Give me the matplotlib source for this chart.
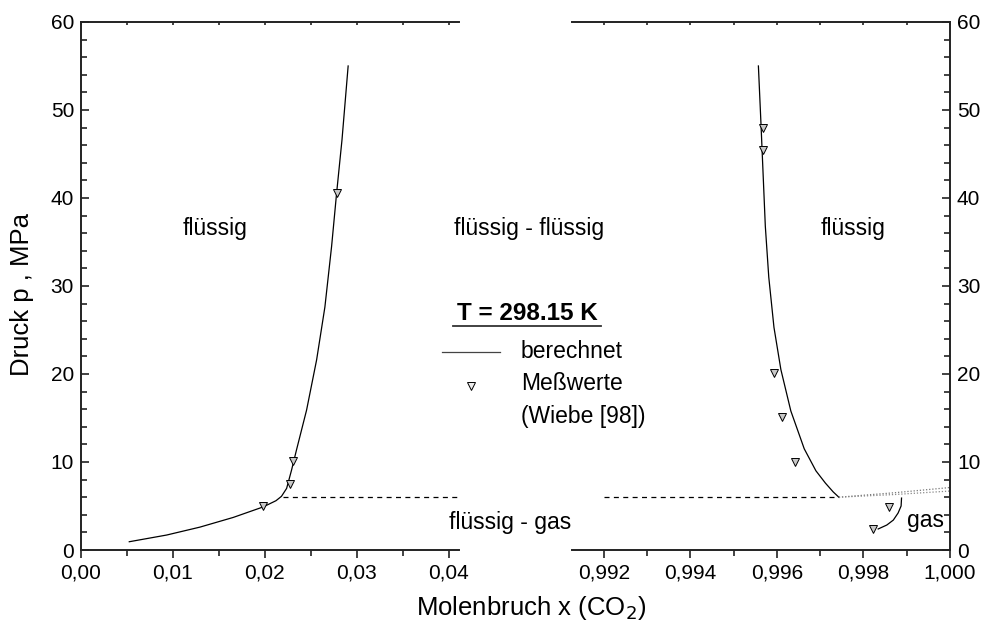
import matplotlib.pyplot as plt
from matplotlib.lines import Line2D
from matplotlib.ticker import MultipleLocator, FuncFormatter

plt.rcParams['font.family'] = ['Liberation Sans', 'DejaVu Sans']

# water-rich side (left panel)
x_calc_w = [0.00525, 0.00931, 0.01293, 0.01655, 0.01982, 0.02120, 0.02180, 0.02236, 0.02290,
            0.02344, 0.02453, 0.02562, 0.02652, 0.02725, 0.02779, 0.02838, 0.02905]
p_calc_w = [0.94, 1.7, 2.6, 3.7, 4.9, 5.6, 6.1, 7.0, 9.1,
            11.4, 15.9, 21.6, 27.6, 34.5, 40.5, 46.6, 55.0]
x_meas_w = [0.0198, 0.0227, 0.0231, 0.0278]
p_meas_w = [5.0, 7.5, 10.1, 40.6]

# CO2-rich side (right panel)
x_calc_c = [0.99557, 0.99563, 0.99568, 0.99573, 0.99581, 0.99593, 0.99609,
            0.99632, 0.99663, 0.99690, 0.99712, 0.99730, 0.99743]
p_calc_c = [55.0, 48.4, 42.6, 36.8, 31.0, 25.3, 20.5,
            15.8, 11.5, 9.0, 7.6, 6.6, 6.0]
x_gas = [0.99834, 0.99854, 0.99869, 0.99880, 0.99887, 0.99888]
p_gas = [2.39, 2.84, 3.4, 4.2, 5.0, 5.9]
x_meas_c = [0.99568, 0.99568, 0.99593, 0.99612, 0.99642, 0.99859, 0.99822]
p_meas_c = [48.0, 45.5, 20.1, 15.1, 10.0, 4.9, 2.4]

# three-phase pressure and metastable branches
p_3ph = 6.0
x_3ph_w = [0.0220, 0.0411]
x_3ph_c = [0.992, 0.99743]
x_dot = [0.99743, 0.9987, 1.000]
p_dot_up = [6.0, 6.5, 7.1]
p_dot_lo = [6.0, 6.3, 6.7]

xticks_w = [0.00, 0.01, 0.02, 0.03, 0.04]
xticks_c = [0.992, 0.994, 0.996, 0.998, 1.000]

fig = plt.figure(figsize=(9.83, 6.26), dpi=100)
ax1 = fig.add_axes([0.0824, 0.1214, 0.3845, 0.8435])
ax2 = fig.add_axes([0.5819, 0.1214, 0.3845, 0.8435])

mk = dict(ls='none', marker='v', ms=5.5, mfc='#c8c8c8', mec='black', mew=0.7)
dash = (0, (4, 3.5))

ax1.plot(x_calc_w, p_calc_w, color='black', lw=0.9)
ax1.plot(x_meas_w, p_meas_w, **mk)
ax1.plot(x_3ph_w, [p_3ph, p_3ph], color='black', lw=0.9, ls=dash)

ax2.plot(x_calc_c, p_calc_c, color='black', lw=0.9)
ax2.plot(x_gas, p_gas, color='black', lw=0.9)
ax2.plot(x_meas_c, p_meas_c, **mk)
ax2.plot(x_3ph_c, [p_3ph, p_3ph], color='black', lw=0.9, ls=dash)
ax2.plot(x_dot, p_dot_up, color='#777777', lw=0.9, ls=(0, (1, 1.5)))
ax2.plot(x_dot, p_dot_lo, color='#888888', lw=0.9, ls=(0, (1, 1.5)))

for ax in (ax1, ax2):
    ax.set_ylim(0, 60)
    ax.yaxis.set_major_locator(MultipleLocator(10))
    ax.yaxis.set_minor_locator(MultipleLocator(2))
    ax.tick_params(which='both', labelsize=15, width=1.2, color='#222222')
    ax.tick_params(axis='y', which='both', direction='in', pad=5)
    ax.tick_params(axis='y', which='major', length=6)
    ax.tick_params(axis='y', which='minor', length=4)
    ax.tick_params(axis='x', which='both', direction='out', pad=4)
    ax.tick_params(axis='x', which='major', length=6)
    ax.tick_params(axis='x', which='minor', length=4)
    for s in ax.spines.values():
        s.set_linewidth(1.4)
        s.set_color('#222222')
    # short marks on the top frame line
    top = ax.secondary_xaxis('top')
    top.tick_params(which='both', direction='in', length=2.5, width=1.2,
                    color='#222222', labeltop=False)
    top.spines['top'].set_visible(False)

ax1.set_xticks(xticks_w)
ax1.xaxis.set_minor_locator(MultipleLocator(0.005))
ax1.xaxis.set_major_formatter(FuncFormatter(lambda v, _: f'{v:.2f}'.replace('.', ',')))
ax1.set_xlim(0, 0.0411)
ax1.spines['right'].set_visible(False)

ax2.set_xticks(xticks_c)
ax2.xaxis.set_minor_locator(MultipleLocator(0.001))
ax2.xaxis.set_major_formatter(FuncFormatter(lambda v, _: f'{v:.3f}'.replace('.', ',')))
ax2.set_xlim(0.99126, 1.000)
ax2.spines['left'].set_visible(False)
ax2.yaxis.tick_right()
ax2.tick_params(axis='y', which='both', left=False, right=True)

fig.text(22 / 983, 1 - 295 / 626, 'Druck p , MPa', fontsize=18.5, rotation=90,
         ha='center', va='center')
fig.text(531 / 983, 1 - 608 / 626, 'Molenbruch x (CO$_2$)', fontsize=18.5,
         ha='center', va='center')

# phase region labels
fs = 16.5
fig.text(215 / 983, 1 - 228 / 626, 'flüssig', fontsize=fs, ha='center', va='center')
fig.text(529 / 983, 1 - 228 / 626, 'flüssig - flüssig', fontsize=fs, ha='center', va='center')
fig.text(853 / 983, 1 - 229 / 626, 'flüssig', fontsize=fs, ha='center', va='center')
fig.text(510 / 983, 1 - 523 / 626, 'flüssig - gas', fontsize=fs, ha='center', va='center')
fig.text(925 / 983, 1 - 521 / 626, 'gas', fontsize=fs, ha='center', va='center')

# temperature title and key
fig.text(527 / 983, 1 - 313 / 626, 'T = 298.15 K', fontsize=17.5, fontweight='bold',
         ha='center', va='center')
fig.add_artist(Line2D([453 / 983, 601 / 983], [1 - 326 / 626, 1 - 326 / 626], color='#333333', lw=1.3))
fig.add_artist(Line2D([442 / 983, 500 / 983], [1 - 352 / 626, 1 - 352 / 626], color='#444444', lw=0.9))
fig.add_artist(Line2D([471 / 983], [1 - 386 / 626], marker='v', ms=5.5, mfc='#eeeeee',
                      mec='black', mew=0.7))
fig.text(521 / 983, 1 - 352 / 626, 'berechnet', fontsize=fs, ha='left', va='center')
fig.text(521 / 983, 1 - 384 / 626, 'Meßwerte', fontsize=fs, ha='left', va='center')
fig.text(521 / 983, 1 - 416 / 626, '(Wiebe [98])', fontsize=fs, ha='left', va='center')

fig.savefig('out.png', dpi=100)
